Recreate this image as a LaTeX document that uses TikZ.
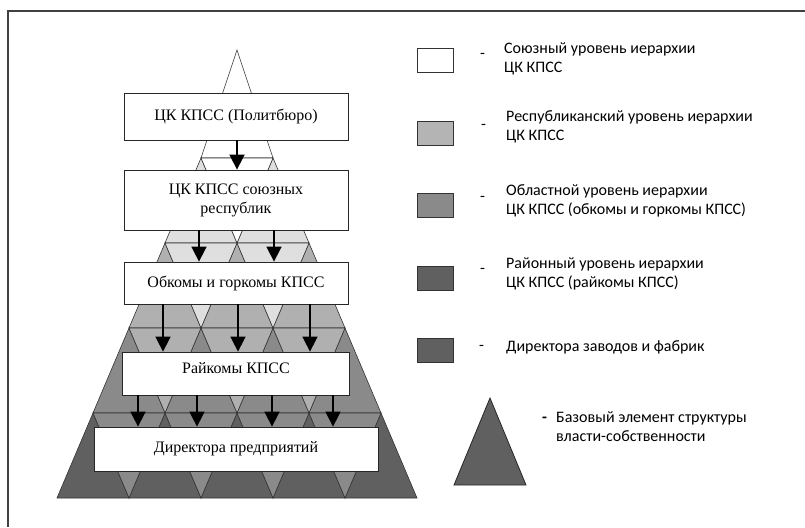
\documentclass[tikz,border=0pt]{standalone}
\usepackage{fontspec}
\setmainfont{Liberation Serif}
\newfontfamily\legendfont{Carlito}
\usetikzlibrary{arrows.meta}

\definecolor{repgray}{HTML}{DFDFDF}
\definecolor{oblgray}{HTML}{B0B0B0}
\definecolor{raigray}{HTML}{8A8A8A}
\definecolor{dirgray}{HTML}{606060}
\definecolor{legrep}{HTML}{B4B4B4}

\begin{document}
\begin{tikzpicture}[x=1pt,y=-1pt,
    box/.style={draw=black!85,fill=white,line width=0.8pt,inner sep=2pt,align=center,
      font=\fontsize{16}{19}\selectfont},
    tile/.style={draw=black!80,line width=0.6pt},
    arr/.style={-{Triangle[width=15pt,length=15pt]},line width=1.6pt},
    legsq/.style={draw=black!80,line width=0.9pt,minimum width=36pt,minimum height=24pt,inner sep=0pt},
    legtext/.style={anchor=west,align=left,inner sep=0pt,font=\legendfont\fontsize{16}{19}\selectfont}]
  \useasboundingbox (0,0) rectangle (805,527);
  \draw[line width=1.3pt,black!75] (805,11) -- (8,11) -- (8,527);

  % pyramid
  \def\xc{237}
  \def\tw{72}
  \def\th{85}
  \filldraw[tile,fill=white] (\xc,50) -- (\xc-\tw/2,158) -- (\xc+\tw/2,158) -- cycle;
  \foreach \k/\up/\dn in {1/repgray/white,2/oblgray/repgray,3/raigray/oblgray,4/dirgray/raigray} {
    \pgfmathsetmacro\ytop{158+(\k-1)*\th}
    \pgfmathtruncatemacro\km{\k-1}
    \foreach \j in {0,...,\k} {
      \pgfmathsetmacro\ax{\xc+(\j-\k/2)*\tw}
      \filldraw[tile,fill=\up] (\ax,\ytop) -- ++(-\tw/2,\th) -- ++(\tw,0) -- cycle;
    }
    \foreach \j in {0,...,\km} {
      \pgfmathsetmacro\ax{\xc+(\j-\k/2)*\tw}
      \filldraw[tile,fill=\dn] (\ax,\ytop) -- ++(\tw,0) -- ++(-\tw/2,\th) -- cycle;
    }
  }

  \node[box,minimum width=224pt,minimum height=47pt] (polit) at (236,116.5) {ЦК КПСС (Политбюро)};
  \node[box,minimum width=224pt,minimum height=60pt] (resp) at (236,200) {ЦК КПСС союзных\\республик};
  \node[box,minimum width=224pt,minimum height=42pt] (obl) at (236,283) {Обкомы и горкомы КПСС};
  \node[box,minimum width=227pt,minimum height=43pt,text depth=11pt] (rai) at (236,373.5) {Райкомы КПСС};
  \node[box,minimum width=284pt,minimum height=44pt] (dir) at (236,449) {Директора предприятий};

  \draw[arr] ([xshift=1pt]polit.south) -- ([xshift=1pt]resp.north);
  \foreach \dx in {-37,38}
    \draw[arr] ([xshift=\dx pt]resp.south) -- ([xshift=\dx pt]obl.north);
  \foreach \dx in {-73,2,74}
    \draw[arr] ([xshift=\dx pt]obl.south) -- ([xshift=\dx pt]rai.north);
  \foreach \dx in {-98,-39,36,97}
    \draw[arr] ([xshift=\dx pt]rai.south) -- ([xshift=\dx pt]dir.north);

  % legend
  \node[legsq,fill=white] (sqA) at (435,60) {};
  \node[legsq,fill=legrep] (sqB) at (435,133.5) {};
  \node[legsq,fill=raigray] (sqC) at (435,205.5) {};
  \node[legsq,fill=dirgray] (sqD) at (435,278.5) {};
  \node[legsq,fill=dirgray] (sqE) at (435,350.5) {};

  \node[legtext] (dashA) at (480,56) {-};
  \node[legtext] (dashB) at (481,127) {-};
  \node[legtext] (dashC) at (480,199) {-};
  \node[legtext] (dashD) at (480,271) {-};
  \node[legtext] (dashE) at (479,348) {-};
  \node[legtext,font=\legendfont\bfseries\fontsize{16}{19}\selectfont] (dashF) at (542,420) {-};

  \node[legtext] (txtA) at (504,58.5) {Союзный уровень иерархии\\ЦК КПСС};
  \node[legtext] (txtB) at (506,126.5) {Республиканский уровень иерархии\\ЦК КПСС};
  \node[legtext] (txtC) at (506,201) {Областной уровень иерархии\\ЦК КПСС (обкомы и горкомы КПСС)};
  \node[legtext] (txtD) at (506,274) {Районный уровень иерархии\\ЦК КПСС (райкомы КПСС)};
  \node[legtext] (txtE) at (506,347) {Директора заводов и фабрик};
  \node[legtext] (txtF) at (556,427) {Базовый элемент структуры\\ власти-собственности};

  \filldraw[draw=black!85,fill=dirgray,line width=0.8pt] (490,398) -- (526,485) -- (454,485) -- cycle;
\end{tikzpicture}
\end{document}
